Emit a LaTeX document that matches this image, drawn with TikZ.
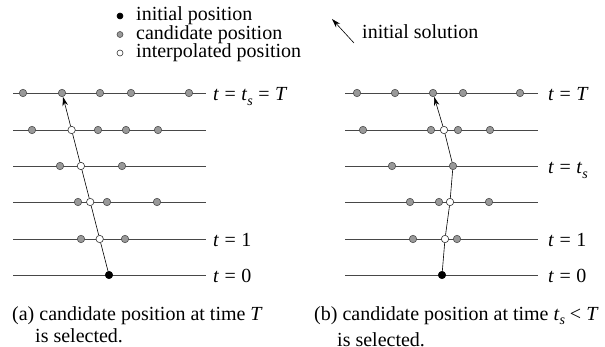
\documentclass[tikz,border=0pt]{standalone}
\usepackage{fontspec}
\setmainfont{Liberation Serif}
\usetikzlibrary{arrows.meta}
\newcommand{\tvar}{\textit{t}}
\newcommand{\tsb}{\textit{t}\raisebox{-4.5pt}{\fontsize{14}{14}\selectfont\textit{s}}}
\newcommand{\eqs}{\hspace{5.5pt}=\hspace{5.5pt}}
\begin{document}
\begin{tikzpicture}[x=1pt,y=-1pt,
  every node/.style={font=\fontsize{20}{22}\selectfont},
  txt/.style={inner sep=0pt, anchor=base west},
  tline/.style={draw=black!72, line width=0.8pt},
  gdot/.style={circle, inner sep=0pt, minimum size=7.4pt, fill=black!40, draw=black!70, line width=0.6pt},
  wdot/.style={circle, inner sep=0pt, minimum size=7.4pt, fill=white, draw=black!80, line width=0.6pt},
  bdot/.style={circle, inner sep=0pt, minimum size=7.4pt, fill=black, draw=black, line width=0.6pt},
  lgdot/.style={circle, inner sep=0pt, minimum size=6pt, line width=0.6pt},
  path/.style={draw=black, line width=0.6pt},
  tip/.style={-{Stealth[length=9pt,width=5.5pt]}}
]
\useasboundingbox (0,0) rectangle (605,347);

% legend
\node[lgdot, fill=black, draw=black] (l1) at (120,16) {};
\node[lgdot, fill=black!40, draw=black!70] (l2) at (120,34.5) {};
\node[lgdot, fill=white, draw=black!80] (l3) at (120,53) {};
\node[txt] (lt1) at (136,21) {initial position};
\node[txt] (lt2) at (136,39.5) {candidate position};
\node[txt] (lt3) at (136,58) {interpolated position};

\coordinate (isA) at (354,43);
\coordinate (isB) at (332,19);
\draw[path, tip] (isA) -- (isB);
\node[txt] (ist) at (362,38.5) {initial solution};

% ---------------- left panel
\foreach \y in {93,130,166,202,239,275} { \draw[tline] (13,\y) -- (206,\y); }
% row 0
\node[gdot] at (23,93) {};
\node[gdot] (La0) at (62,93) {};
\node[gdot] at (100,93) {};
\node[gdot] at (131,93) {};
\node[gdot] at (189,93) {};
% row 1
\node[gdot] at (32,130) {};
\node[wdot] (La1) at (71.6,130) {};
\node[gdot] at (98,130) {};
\node[gdot] at (126,130) {};
\node[gdot] at (158,130) {};
% row 2
\node[gdot] at (60,166) {};
\node[wdot] (La2) at (80.9,166) {};
\node[gdot] at (122,166) {};
% row 3
\node[gdot] at (78,202) {};
\node[wdot] (La3) at (90.2,202) {};
\node[gdot] at (107,202) {};
\node[gdot] at (157,202) {};
% row 4
\node[gdot] at (81,239) {};
\node[wdot] (La4) at (99.7,239) {};
\node[gdot] at (125,239) {};
% row 5
\node[bdot] (La5) at (109,275) {};
\draw[path] (La5) -- (La4) -- (La3) -- (La2) -- (La1);
\draw[path, tip] (La1) -- (La0);

\node[txt] (Lt0) at (213,101) {\tvar\eqs\tsb\eqs\textit{T}};
\node[txt] (Lt4) at (213,247) {\tvar\eqs 1};
\node[txt] (Lt5) at (213,283) {\tvar\eqs 0};

% ---------------- right panel
\foreach \y in {93,130,166,202,239,275} { \draw[tline] (345,\y) -- (538,\y); }
% row 0
\node[gdot] at (357,93) {};
\node[gdot] at (395,93) {};
\node[gdot] (Rb0) at (433,93) {};
\node[gdot] at (463,93) {};
\node[gdot] at (520,93) {};
% row 1
\node[gdot] at (363,130) {};
\node[gdot] at (431,130) {};
\node[wdot] (Rb1) at (444,130) {};
\node[gdot] at (458,130) {};
\node[gdot] at (490,130) {};
% row 2
\node[gdot] at (392,166) {};
\node[gdot] (Rb2) at (453,166) {};
% row 3
\node[gdot] at (410,202) {};
\node[gdot] at (439,202) {};
\node[wdot] (Rb3) at (450,202) {};
\node[gdot] at (489,202) {};
% row 4
\node[gdot] at (413,239) {};
\node[wdot] (Rb4) at (445,239) {};
\node[gdot] at (457,239) {};
% row 5
\node[bdot] (Rb5) at (442,275) {};
\draw[path] (Rb5) -- (Rb4) -- (Rb3) -- (Rb2) -- (Rb1);
\draw[path, tip] (Rb1) -- (Rb0);

\node[txt] (Rt0) at (548,101) {\tvar\eqs\textit{T}};
\node[txt] (Rt2) at (548,174) {\tvar\eqs\tsb};
\node[txt] (Rt4) at (548,247) {\tvar\eqs 1};
\node[txt] (Rt5) at (548,283) {\tvar\eqs 0};

% captions
\node[txt] (ca1) at (12,320) {(a) candidate position at time \textit{T}};
\node[txt] (ca2) at (35,342) {is selected.};
\node[txt] (cb1) at (314,320) {(b) candidate position at time \tsb\hspace{5pt}<\hspace{5pt}\textit{T}};
\node[txt] (cb2) at (337,346) {is selected.};
\end{tikzpicture}
\end{document}
